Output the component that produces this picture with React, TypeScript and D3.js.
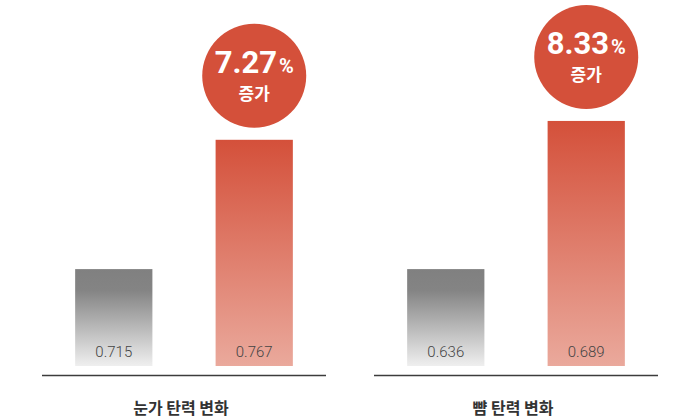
import * as d3 from "d3";

// chart data
const groups = ["눈가 탄력 변화", "뺨 탄력 변화"];
const beforeValues = [0.715, 0.636];
const afterValues = [0.767, 0.689];
const increaseLabels = ["7.27", "8.33"];
const badgeWord = "증가";

const width = 700;
const height = 420;
const font = "'Noto Sans CJK KR', 'Noto Sans', sans-serif";
const numFont = "Roboto, 'Noto Sans', sans-serif";

export default function App() {
  // panels side by side
  const panelX = d3
    .scaleBand()
    .domain(groups)
    .range([42, 658])
    .paddingInner(0.1446)
    .paddingOuter(0);

  // two bars inside a panel
  const barX = d3
    .scaleBand()
    .domain(["before", "after"])
    .range([0, panelX.bandwidth()])
    .paddingInner(0.45)
    .paddingOuter(0.236);

  // bars are drawn relative to the "before" value of each panel
  const y = d3.scaleLinear().domain([0.9455, 1.0833]).range([366, 121]);

  const badgeR = 52;

  return (
    <svg
      width={width}
      height={height}
      style={{ position: "absolute", left: 0, top: 0, display: "block", background: "#fff" }}
      fontFamily={font}
    >
      <defs>
        <linearGradient id="grayGrad" x1="0" y1="0" x2="0" y2="1">
          <stop offset="0" stopColor="#808080" />
          <stop offset="0.22" stopColor="#848484" />
          <stop offset="1" stopColor="#efefef" />
        </linearGradient>
        <linearGradient id="redGrad" x1="0" y1="0" x2="0" y2="1">
          <stop offset="0" stopColor="#d4503a" />
          <stop offset="1" stopColor="#eaa99c" />
        </linearGradient>
      </defs>

      {groups.map((g, i) => {
        const x0 = panelX(g)!;
        const base = beforeValues[i];
        const vals = [
          { key: "before", v: beforeValues[i], fill: "url(#grayGrad)" },
          { key: "after", v: afterValues[i], fill: "url(#redGrad)" },
        ];
        const afterTop = y(afterValues[i] / base);
        const cx = x0 + barX("after")! + barX.bandwidth() / 2;
        const cy = afterTop - 12 - badgeR;
        return (
          <g key={g}>
            {vals.map((d) => {
              const top = y(d.v / base);
              const bx = x0 + barX(d.key)!;
              return (
                <g key={d.key}>
                  <rect x={bx} y={top} width={barX.bandwidth()} height={y.range()[0] - top} fill={d.fill} />
                  <text
                    x={bx + barX.bandwidth() / 2}
                    y={357}
                    textAnchor="middle"
                    fontFamily={numFont}
                    fontSize={15}
                    fontWeight={300}
                    fill="#444"
                  >
                    {d.v.toFixed(3)}
                  </text>
                </g>
              );
            })}

            <line x1={x0} x2={x0 + panelX.bandwidth()} y1={375.5} y2={375.5} stroke="#3c3c3c" strokeWidth={1.5} />

            <text
              x={x0 + panelX.bandwidth() / 2 - 3}
              y={414}
              textAnchor="middle"
              fontSize={16}
              fontWeight={700}
              fill="#333"
            >
              {g}
            </text>

            <circle cx={cx} cy={cy} r={badgeR} fill="#d4503a" />
            <text x={cx} y={cy - 3} textAnchor="middle" fill="#fff" fontWeight={700} fontFamily={numFont}>
              <tspan fontSize={31}>{increaseLabels[i]}</tspan>
              <tspan fontSize={20} dx={2}>%</tspan>
            </text>
            <text x={cx} y={cy + 24} textAnchor="middle" fill="#fff" fontWeight={700} fontSize={17}>
              {badgeWord}
            </text>
          </g>
        );
      })}
    </svg>
  );
}
